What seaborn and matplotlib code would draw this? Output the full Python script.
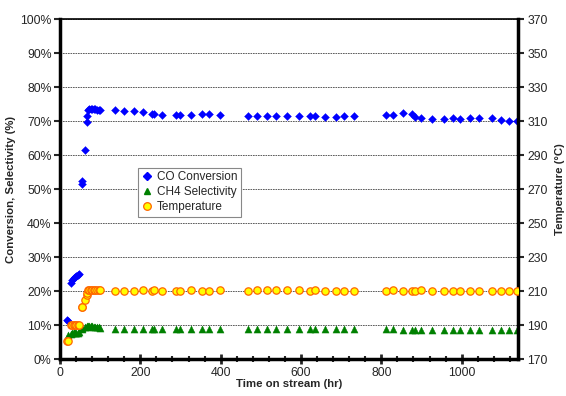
import numpy as np
import pandas as pd
import matplotlib
matplotlib.use("Agg")
import matplotlib.pyplot as plt
from matplotlib.lines import Line2D
from matplotlib.ticker import FuncFormatter, MultipleLocator
import seaborn as sns

# Time on stream (hr)
hours = [18, 20, 27, 31, 35, 38, 41, 45, 48, 54, 56, 62, 66, 68,
         70, 73, 76, 80, 84, 88, 92, 96, 100,
         137, 160, 184, 206, 228, 235, 255, 289, 300, 327, 354, 372, 398,
         469, 491, 515, 539, 564, 594, 623, 634, 660, 686, 708, 732,
         811, 829, 854, 877, 884, 900, 927, 955, 978, 996, 1020, 1044,
         1075, 1098, 1119, 1139]

# CO conversion (%)
co_conv = [11.6, 11.3, 22.5, 23.2, 23.8, 24.2, 24.5, 24.8, 25.0, 51.4, 52.4, 61.6, 69.6, 71.5,
           73.2, 73.5, 73.6, 73.6, 73.5, 73.4, 73.3, 73.2, 73.2,
           73.2, 72.8, 72.8, 72.6, 72.2, 72.0, 71.9, 71.9, 71.9, 71.8, 72.0, 72.0, 71.9,
           71.6, 71.5, 71.6, 71.4, 71.5, 71.4, 71.4, 71.4, 71.1, 71.2, 71.6, 71.6,
           71.7, 71.9, 72.3, 72.0, 71.1, 70.9, 70.7, 70.7, 70.9, 70.7, 70.8, 70.8,
           71.0, 70.2, 70.0, 70.0]

# CH4 selectivity (%)
ch4_sel = [6.1, 7.0, 7.4, 7.7, 7.8, 7.6, 7.6, 7.7, 7.8, 8.7, 9.0, 9.3, 9.5, 9.8,
           9.6, 9.7, 9.6, 9.6, 9.5, 9.4, 9.4, 9.3, 9.2,
           8.8, 8.8, 8.8, 8.8, 8.9, 8.9, 8.8, 8.8, 8.8, 8.8, 8.8, 8.8, 8.8,
           8.8, 8.8, 8.8, 8.8, 8.8, 8.8, 8.8, 8.8, 8.8, 8.8, 8.8, 8.8,
           8.7, 8.7, 8.6, 8.6, 8.6, 8.6, 8.6, 8.6, 8.4, 8.4, 8.5, 8.5,
           8.5, 8.5, 8.5, 8.5]

# Temperature (deg C)
temp_c = [180.6, 180.4, 190.2, 190.2, 190.3, 190.2, 190.2, 190.3, 190.2, 200.4, 200.4, 205.0, 207.5, 208.6,
          210.4, 210.5, 210.5, 210.5, 210.5, 210.5, 210.4, 210.5, 210.5,
          210.2, 210.3, 210.2, 210.4, 210.2, 210.4, 210.2, 210.3, 210.3, 210.4, 210.2, 210.2, 210.4,
          210.2, 210.4, 210.4, 210.4, 210.4, 210.4, 210.2, 210.4, 210.2, 210.2, 210.2, 210.2,
          210.2, 210.4, 210.2, 210.2, 210.3, 210.4, 210.2, 210.3, 210.2, 210.3, 210.3, 210.2,
          210.2, 210.2, 210.2, 210.3]

temp_ticks = list(range(170, 371, 20))

df = pd.DataFrame({'hours': hours, 'co': co_conv, 'ch4': ch4_sel, 'temp': temp_c})

sns.set_style("white")
plt.rcParams['font.family'] = ['Liberation Sans', 'DejaVu Sans']

fig, ax = plt.subplots(figsize=(5.66, 3.96), dpi=100)
fig.subplots_adjust(left=0.106, right=0.915, top=0.952, bottom=0.0934)

sns.scatterplot(data=df, x='hours', y='co', marker='D', color='#0000FF',
                edgecolor='#0000FF', linewidth=0.3, s=16, ax=ax, zorder=3)
sns.scatterplot(data=df, x='hours', y='ch4', marker='^', color='#008000',
                edgecolor='#008000', linewidth=0.3, s=26, ax=ax, zorder=3)

ax2 = ax.twinx()
sns.scatterplot(data=df, x='hours', y='temp', marker='o', color='#FFFF00',
                edgecolor='#FF6600', linewidth=0.9, s=28, ax=ax2, zorder=3)

# axes ranges / ticks
ax.set_xlim(0, 1140)
ax.set_ylim(0, 100)
ax2.set_ylim(170, 370)
ax.xaxis.set_major_locator(MultipleLocator(200))
ax.xaxis.set_minor_locator(MultipleLocator(40))
ax.yaxis.set_major_locator(MultipleLocator(10))
ax.yaxis.set_major_formatter(FuncFormatter(lambda v, p: f"{v:.0f}%"))
ax2.set_yticks(temp_ticks)

ax.yaxis.grid(True, linestyle=(0, (2, 1)), color='#444444', linewidth=0.6)
ax.set_axisbelow(True)

ax.tick_params(axis='y', direction='out', length=4, width=1.5, labelsize=8.8, pad=2, left=True)
ax.tick_params(axis='x', which='major', direction='inout', length=7, width=2, labelsize=8.8, pad=2, bottom=True)
ax.tick_params(axis='x', which='minor', direction='inout', length=5, width=1.5, bottom=True)
ax2.tick_params(axis='y', direction='out', length=4, width=1.5, labelsize=8.8, pad=3, right=True)

for side in ['left', 'bottom']:
    ax.spines[side].set_linewidth(2.5)
    ax.spines[side].set_color('black')
ax.spines['top'].set_linewidth(1.2)
ax.spines['top'].set_color('black')
ax.spines['right'].set_visible(False)
ax2.spines['right'].set_linewidth(2.5)
ax2.spines['right'].set_color('black')
for side in ['left', 'bottom', 'top']:
    ax2.spines[side].set_visible(False)

ax.set_xlabel('Time on stream (hr)', fontsize=8.2, fontweight='bold', labelpad=0)
ax.set_ylabel('Conversion, Selectivity (%)', fontsize=8.2, fontweight='bold', labelpad=3)
ax2.set_ylabel('Temperature (°C)', fontsize=8.2, fontweight='bold', labelpad=5)

handles = [
    Line2D([], [], linestyle='none', marker='D', markersize=4, color='#0000FF'),
    Line2D([], [], linestyle='none', marker='^', markersize=5, color='#008000'),
    Line2D([], [], linestyle='none', marker='o', markersize=5.5,
           markerfacecolor='#FFFF00', markeredgecolor='#FF6600', markeredgewidth=0.9),
]
leg = ax2.legend(handles, ['CO Conversion', 'CH4 Selectivity', 'Temperature'],
                 loc='upper left', bbox_to_anchor=(0.170, 0.562), fontsize=8.5,
                 frameon=True, fancybox=False, edgecolor='#888888', framealpha=1,
                 handlelength=1.0, handletextpad=0.3, borderpad=0.3, labelspacing=0.25,
                 borderaxespad=0)
leg.get_frame().set_linewidth(0.8)

plt.savefig('out.png', dpi=100)
